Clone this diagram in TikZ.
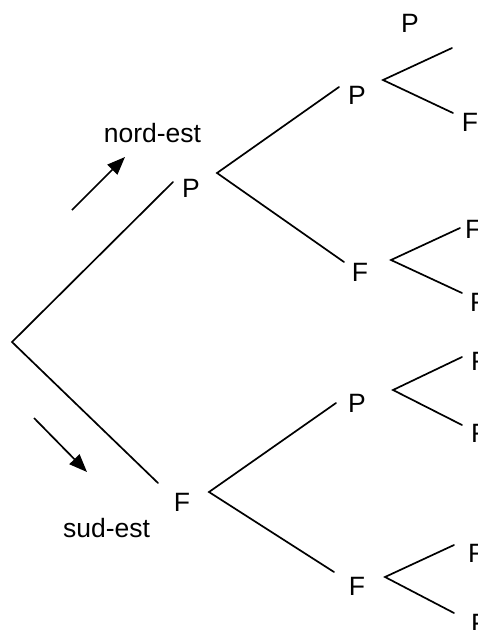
\documentclass[tikz,border=0pt]{standalone}
\usepackage{fontspec}
\setmainfont{Liberation Sans}
\usetikzlibrary{arrows.meta}
\begin{document}
\begin{tikzpicture}[x=1pt,y=-1pt,
  branch/.style={line width=1.7pt, line cap=round},
  lbl/.style={inner sep=0pt, font=\fontsize{26.5}{32}\selectfont},
  dirarrow/.style={line width=1.7pt, -{Triangle[length=18pt,width=14pt]}}]
\useasboundingbox (0,0) rectangle (478,630);
% level 0 / 1
\coordinate (root) at (12,342);
\coordinate (e1P) at (173,182);
\coordinate (e1F) at (158,483);
\node[lbl] (l1P) at (191,188) {P};
\node[lbl] (l1F) at (182,502) {F};
\coordinate (v1P) at (217,173);
\coordinate (v1F) at (209,492);
% level 2
\coordinate (e2PP) at (339,87);
\coordinate (e2PF) at (344,262);
\coordinate (e2FP) at (336,403);
\coordinate (e2FF) at (334,572);
\node[lbl] (l2PP) at (357,95) {P};
\node[lbl] (l2PF) at (360,272) {F};
\node[lbl] (l2FP) at (357,403) {P};
\node[lbl] (l2FF) at (357,586) {F};
\coordinate (v2PP) at (383,80);
\coordinate (v2PF) at (391,260);
\coordinate (v2FP) at (393,390);
\coordinate (v2FF) at (385,577);
% level 3 ends
\coordinate (e3a) at (452,48);
\coordinate (e3b) at (453,113);
\coordinate (e3c) at (460,228);
\coordinate (e3d) at (462,293);
\coordinate (e3e) at (462,357);
\coordinate (e3f) at (462,425);
\coordinate (e3g) at (454,545);
\coordinate (e3h) at (454,613);
\node[lbl] (l3a) at (410,23) {P};
\node[lbl] (l3b) at (470,122) {F};
\node[lbl,anchor=west] (l3c) at (465,229) {F};
\node[lbl,anchor=west] (l3d) at (470,302) {F};
\node[lbl,anchor=west] (l3e) at (471,361) {F};
\node[lbl,anchor=west] (l3f) at (471,433) {F};
\node[lbl,anchor=west] (l3g) at (468,553) {F};
\node[lbl,anchor=west] (l3h) at (471,623) {F};
% branches
\draw[branch] (e1P) -- (root) -- (e1F);
\draw[branch] (e2PP) -- (v1P) -- (e2PF);
\draw[branch] (e2FP) -- (v1F) -- (e2FF);
\draw[branch] (e3a) -- (v2PP) -- (e3b);
\draw[branch] (e3c) -- (v2PF) -- (e3d);
\draw[branch] (e3e) -- (v2FP) -- (e3f);
\draw[branch] (e3g) -- (v2FF) -- (e3h);
% direction arrows
\coordinate (neA) at (72,210);
\coordinate (neB) at (125,157);
\coordinate (seA) at (34,418);
\coordinate (seB) at (87,472);
\draw[dirarrow] (neA) -- (neB);
\draw[dirarrow] (seA) -- (seB);
\node[lbl,anchor=base] (ne) at (152.5,142) {nord-est};
\node[lbl,anchor=base] (se) at (106.5,537) {sud-est};
\end{tikzpicture}
\end{document}
